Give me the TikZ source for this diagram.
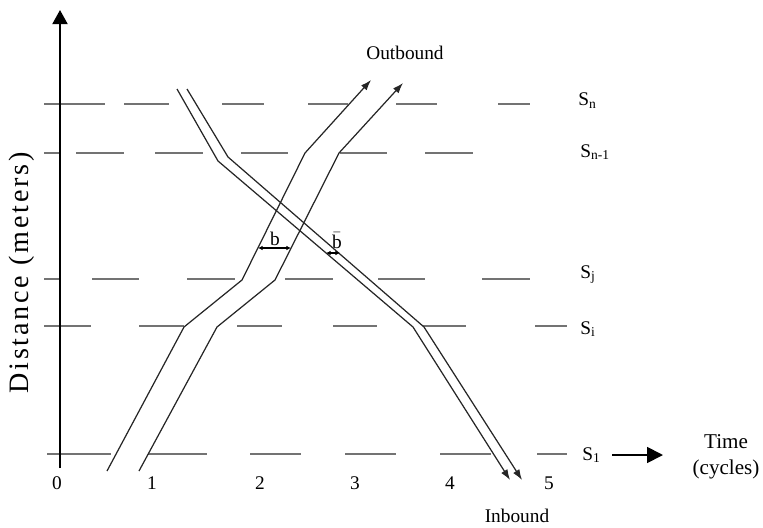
\documentclass[tikz,border=0pt]{standalone}
\usepackage{fontspec}
\setmainfont{Liberation Serif}
\usetikzlibrary{arrows.meta, positioning}

\tikzset{
  sig/.style={black!55, line width=0.8pt},
  veh/.style={black!85, line width=0.7pt, -{Latex[length=6pt,width=4.2pt]}},
  lab/.style={font=\fontsize{11}{13}\selectfont, inner sep=0pt},
  slab/.style={lab, anchor=base west},
  gap/.style={black, line width=0.6pt, {Latex[length=2.6pt,width=2.6pt]}-{Latex[length=2.6pt,width=2.6pt]}}
}

\begin{document}
\begin{tikzpicture}[x=0.02cm, y=-0.02cm, >=Stealth]
  \useasboundingbox (0,0) rectangle (763,527);

  % --- Signal stop lines ---
  \foreach \a/\b in {44/105,124/169,222/264,308/348,396/437,498/530}
    \draw[sig] (\a,104) -- (\b,104);
  \foreach \a/\b in {44/60,76/124,155/203,241/288,340/387,425/473}
    \draw[sig] (\a,153) -- (\b,153);
  \foreach \a/\b in {44/59,92/139,187/235,285/333,378/425,482/530}
    \draw[sig] (\a,279) -- (\b,279);
  \foreach \a/\b in {44/91,139/184,237/282,333/377,423/466,535/567}
    \draw[sig] (\a,326) -- (\b,326);
  \foreach \a/\b in {47/111,148/207,250/301,345/396,440/491,537/567}
    \draw[sig] (\a,454) -- (\b,454);

  \node[slab] (sn) at (578,106) {S\textsubscript{n}};
  \node[slab] (sn1) at (580,157) {S\textsubscript{n-1}};
  \node[slab] (sj) at (580,278) {S\textsubscript{j}};
  \node[slab] (si) at (580,334) {S\textsubscript{i}};
  \node[slab] (s1) at (582,460) {S\textsubscript{1}};

  % --- Axes ---
  \coordinate (O) at (60,468);
  \coordinate (ytop) at (60,10);
  \draw[line width=1.2pt, -{Triangle[length=8pt,width=8.5pt]}] (O) -- (ytop);
  \node[lab, rotate=90, font=\fontsize{16}{18}\selectfont\addfontfeature{LetterSpace=10}] (dist) at (22,273) {Distance (meters)};

  \coordinate (t0) at (612,455);
  \coordinate (t1) at (663,455);
  \draw[line width=1pt, -{Triangle[length=9pt,width=9pt]}] (t0) -- (t1);
  \node[lab, align=center, font=\fontsize{12}{15}\selectfont] (time) at (726,457) {Time\\(cycles)};

  \foreach \t/\x in {0/57,1/152,2/260,3/355,4/450,5/549}
    \node[lab] (tick\t) at (\x,483) {\t};

  % --- Outbound platoon ---
  \draw[veh] (107,471) -- (184,327) -- (242,280) -- (305,153) -- (371,80);
  \draw[veh] (139,471) -- (217,327) -- (275,280) -- (339,153) -- (403,83);
  \node[lab] (outb) at (405,53) {Outbound};

  % --- Inbound platoon ---
  \draw[veh] (177,89) -- (218,161) -- (413,327) -- (510,480);
  \draw[veh] (187,89) -- (228,157) -- (424,327) -- (522,480);
  \node[lab] (inb) at (517,516) {Inbound};

  % Bandwidths
  \coordinate (b0) at (258,248);
  \coordinate (b1) at (291,248);
  \draw[gap] (b0) -- (b1);
  \node[lab] (bout) at (275,239) {b};
  \coordinate (c0) at (326,253);
  \coordinate (c1) at (340,253);
  \draw[gap] (c0) -- (c1);
  \node[lab] (bin) at (337,241) {$\bar{\mathrm{b}}$};
\end{tikzpicture}
\end{document}
